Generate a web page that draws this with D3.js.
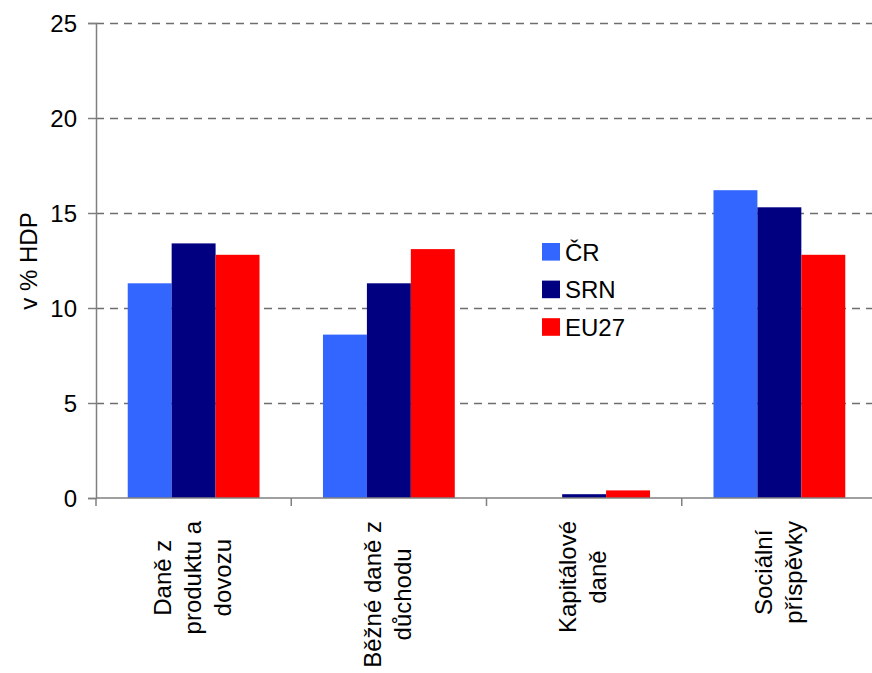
<!DOCTYPE html>
<html>
<head>
<meta charset="utf-8">
<script src="https://cdn.jsdelivr.net/npm/d3@7"></script>
<style>
  html, body { margin: 0; padding: 0; background: #fff; }
  svg { display: block; font-family: Arial, "Liberation Sans", sans-serif; }
</style>
</head>
<body>
<svg id="chart" width="872" height="673"></svg>
<script>
// Tax structure, % of GDP
const categoryLines = [
  ["Daně z", "produktu a", "dovozu"],
  ["Běžné daně z", "důchodu"],
  ["Kapitálové", "daně"],
  ["Sociální", "příspěvky"]
];
const categories = categoryLines.map(l => l.join(" "));
const seriesNames = ["ČR", "SRN", "EU27"];
const seriesColors = ["#3366FF", "#000080", "#FF0000"];
const valuesCR   = [11.3, 8.6, 0.0, 16.2];
const valuesSRN  = [13.4, 11.3, 0.2, 15.3];
const valuesEU27 = [12.8, 13.1, 0.4, 12.8];
const yTicks = [0, 5, 10, 15, 20, 25];
const yTitle = "v % HDP";

const seriesValues = [valuesCR, valuesSRN, valuesEU27];

const svg = d3.select("#chart");
const plotLeft = 96, plotRight = 877, plotTop = 23, plotBottom = 498;
const fs = 24;

const y = d3.scaleLinear().domain([0, 25]).range([plotBottom, plotTop]);
const x = d3.scaleBand().domain(categories).range([plotLeft, plotRight])
  .paddingInner(0.325).paddingOuter(0.1625);
const xs = d3.scaleBand().domain(seriesNames).range([0, x.bandwidth()]).padding(0);
const step = x.step();

// horizontal dashed gridlines
svg.append("g")
  .selectAll("line")
  .data(yTicks.filter(t => t > 0))
  .join("line")
  .attr("x1", plotLeft).attr("x2", plotRight)
  .attr("y1", d => Math.round(y(d)) + 0.5).attr("y2", d => Math.round(y(d)) + 0.5)
  .attr("stroke", "#6e6e6e").attr("stroke-width", 1.3)
  .attr("stroke-dasharray", "8,6");

// bars
const groups = svg.append("g").selectAll("g")
  .data(categories)
  .join("g")
  .attr("transform", d => `translate(${x(d)},0)`);

groups.selectAll("rect")
  .data((c, ci) => seriesNames.map((s, si) => ({ s, si, v: seriesValues[si][ci] })))
  .join("rect")
  .attr("x", d => xs(d.s))
  .attr("width", xs.bandwidth())
  .attr("y", d => y(d.v))
  .attr("height", d => y(0) - y(d.v))
  .attr("fill", d => seriesColors[d.si]);

// y axis
const yAxis = d3.axisLeft(y).tickValues(yTicks).tickSize(8).tickPadding(11).tickFormat(d3.format("d"));
const gy = svg.append("g").attr("transform", `translate(${plotLeft},0)`).call(yAxis);
gy.attr("font-family", null).attr("font-size", null);
gy.select(".domain").attr("stroke", "#808080").attr("stroke-width", 1.5);
gy.selectAll(".tick line").attr("stroke", "#808080").attr("stroke-width", 1.5);
gy.selectAll(".tick text").attr("font-size", fs).attr("fill", "#000").attr("dy", "0.36em");

// x axis: ticks at category boundaries
const boundaries = d3.range(categories.length + 1).map(i => plotLeft + i * step);
svg.append("line")
  .attr("x1", plotLeft).attr("x2", plotRight)
  .attr("y1", plotBottom).attr("y2", plotBottom)
  .attr("stroke", "#808080").attr("stroke-width", 1.5);
svg.append("g").selectAll("line")
  .data(boundaries)
  .join("line")
  .attr("x1", d => d).attr("x2", d => d)
  .attr("y1", plotBottom).attr("y2", plotBottom + 8)
  .attr("stroke", "#808080").attr("stroke-width", 1.5);

// rotated multi-line category labels, lines centred on each other,
// block ending a fixed distance below the axis
const lineGap = 30, labelEnd = plotBottom + 23;
categoryLines.forEach((lines, ci) => {
  const cx = x(categories[ci]) + x.bandwidth() / 2;
  const g = svg.append("g");
  const texts = lines.map(ln => g.append("text")
    .attr("font-size", fs).attr("fill", "#000").attr("text-anchor", "middle")
    .text(ln));
  const maxW = d3.max(texts, t => t.node().getComputedTextLength());
  const cy = labelEnd + maxW / 2;
  texts.forEach((t, i) => {
    const bx = cx + 0.3 * fs + (i - (lines.length - 1) / 2) * lineGap;
    t.attr("transform", `translate(${bx},${cy}) rotate(-90)`);
  });
});

// y axis title
svg.append("text")
  .attr("transform", "translate(37,261) rotate(-90)")
  .attr("text-anchor", "middle").attr("font-size", fs).attr("fill", "#000")
  .text(yTitle);

// legend
const legend = svg.append("g").attr("transform", "translate(542,243)");
const leg = legend.selectAll("g").data(seriesNames).join("g")
  .attr("transform", (d, i) => `translate(0,${i * 37.6})`);
leg.append("rect").attr("width", 18).attr("height", 17.6)
  .attr("fill", (d, i) => seriesColors[i]);
leg.append("text").attr("x", 23).attr("y", 17.6)
  .attr("font-size", fs).attr("fill", "#000").text(d => d);
</script>
</body>
</html>
